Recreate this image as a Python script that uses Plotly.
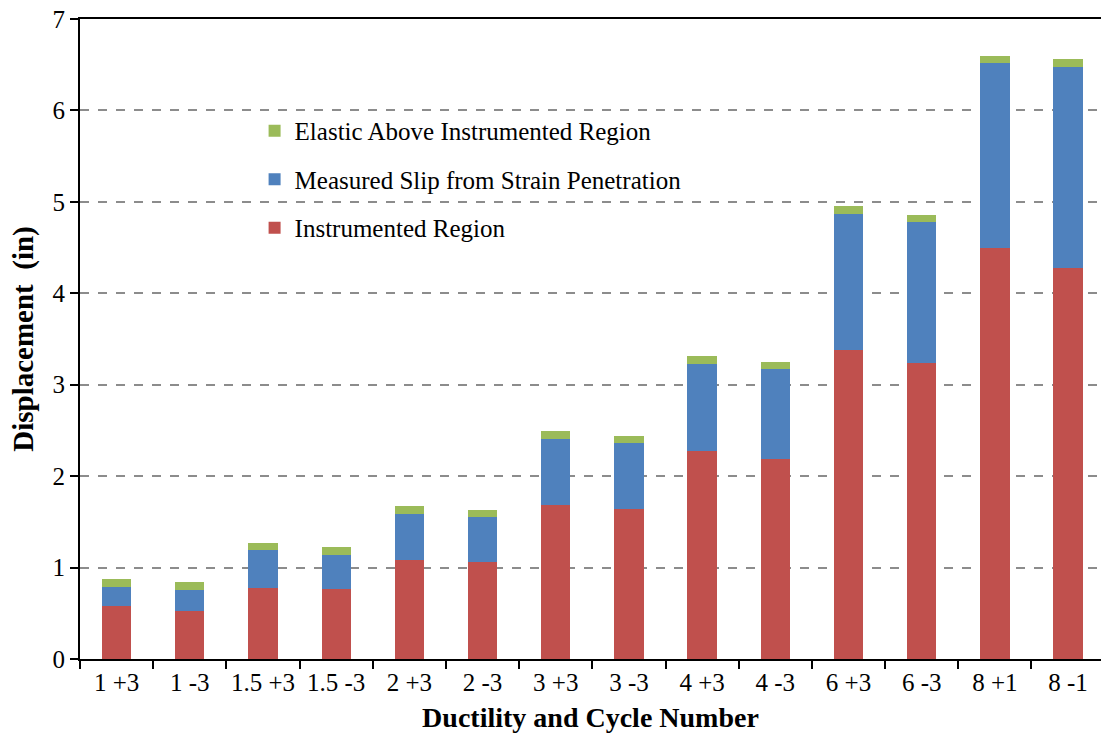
import plotly.graph_objects as go

categories = ["1 +3", "1 -3", "1.5 +3", "1.5 -3", "2 +3", "2 -3", "3 +3", "3 -3",
              "4 +3", "4 -3", "6 +3", "6 -3", "8 +1", "8 -1"]
instrumented = [0.58, 0.53, 0.78, 0.77, 1.08, 1.06, 1.68, 1.64, 2.27, 2.19, 3.38, 3.24, 4.49, 4.28]
slip = [0.21, 0.23, 0.41, 0.37, 0.51, 0.49, 0.73, 0.72, 0.96, 0.98, 1.49, 1.54, 2.03, 2.20]
elastic = [0.08, 0.08, 0.08, 0.08, 0.08, 0.08, 0.08, 0.08, 0.08, 0.08, 0.08, 0.08, 0.08, 0.08]
y_ticks = [0, 1, 2, 3, 4, 5, 6, 7]

FONT = "Liberation Serif, Times New Roman, serif"

fig = go.Figure()
fig.add_trace(go.Bar(x=categories, y=instrumented, name="Instrumented Region",
                     marker=dict(color="#C0504D", line=dict(width=0)),
                     legendgroup="c", legendrank=3))
fig.add_trace(go.Bar(x=categories, y=slip, name="Measured Slip from Strain Penetration",
                     marker=dict(color="#4F81BD", line=dict(width=0)),
                     legendgroup="b", legendrank=2))
fig.add_trace(go.Bar(x=categories, y=elastic, name="Elastic Above Instrumented Region",
                     marker=dict(color="#9BBB59", line=dict(width=0)),
                     legendgroup="a", legendrank=1))

fig.update_layout(
    width=1101, height=747,
    margin=dict(l=80, r=0, t=19, b=88, autoexpand=False),
    barmode="stack", bargap=0.6,
    plot_bgcolor="white", paper_bgcolor="white",
    font=dict(family=FONT, size=25, color="black"),
    showlegend=True,
    legend=dict(x=0.171, y=0.861, xanchor="left", yanchor="top",
                traceorder="grouped", tracegroupgap=13,
                font=dict(family=FONT, size=25, color="black"),
                bgcolor="rgba(255,255,255,0)", itemwidth=30),
    xaxis=dict(type="category", range=[-0.5, 13.45], automargin=False,
               showline=True, linecolor="black", linewidth=2, mirror=True,
               ticks="outside", tickson="boundaries", ticklen=8, tickwidth=2,
               tickcolor="black", showgrid=False, tickangle=0,
               tickfont=dict(family=FONT, size=25),
               title=dict(text="<b>Ductility and Cycle Number</b>",
                          font=dict(family=FONT, size=28), standoff=12)),
    yaxis=dict(range=[0, 7], tickvals=y_ticks, automargin=False,
               ticklabeloverflow="allow",
               showline=True, linecolor="black", linewidth=2,
               ticks="outside", ticklen=8, tickwidth=2, tickcolor="black",
               showgrid=True, gridcolor="#8c8c8c", griddash="dash", gridwidth=1.5,
               zeroline=False,
               tickfont=dict(family=FONT, size=25),
               title=dict(text="<b>Displacement  (in)</b>",
                          font=dict(family=FONT, size=29), standoff=10)),
)

fig.write_html("out.html", config={"displayModeBar": False},
               post_script="document.body.style.margin='0px';")
